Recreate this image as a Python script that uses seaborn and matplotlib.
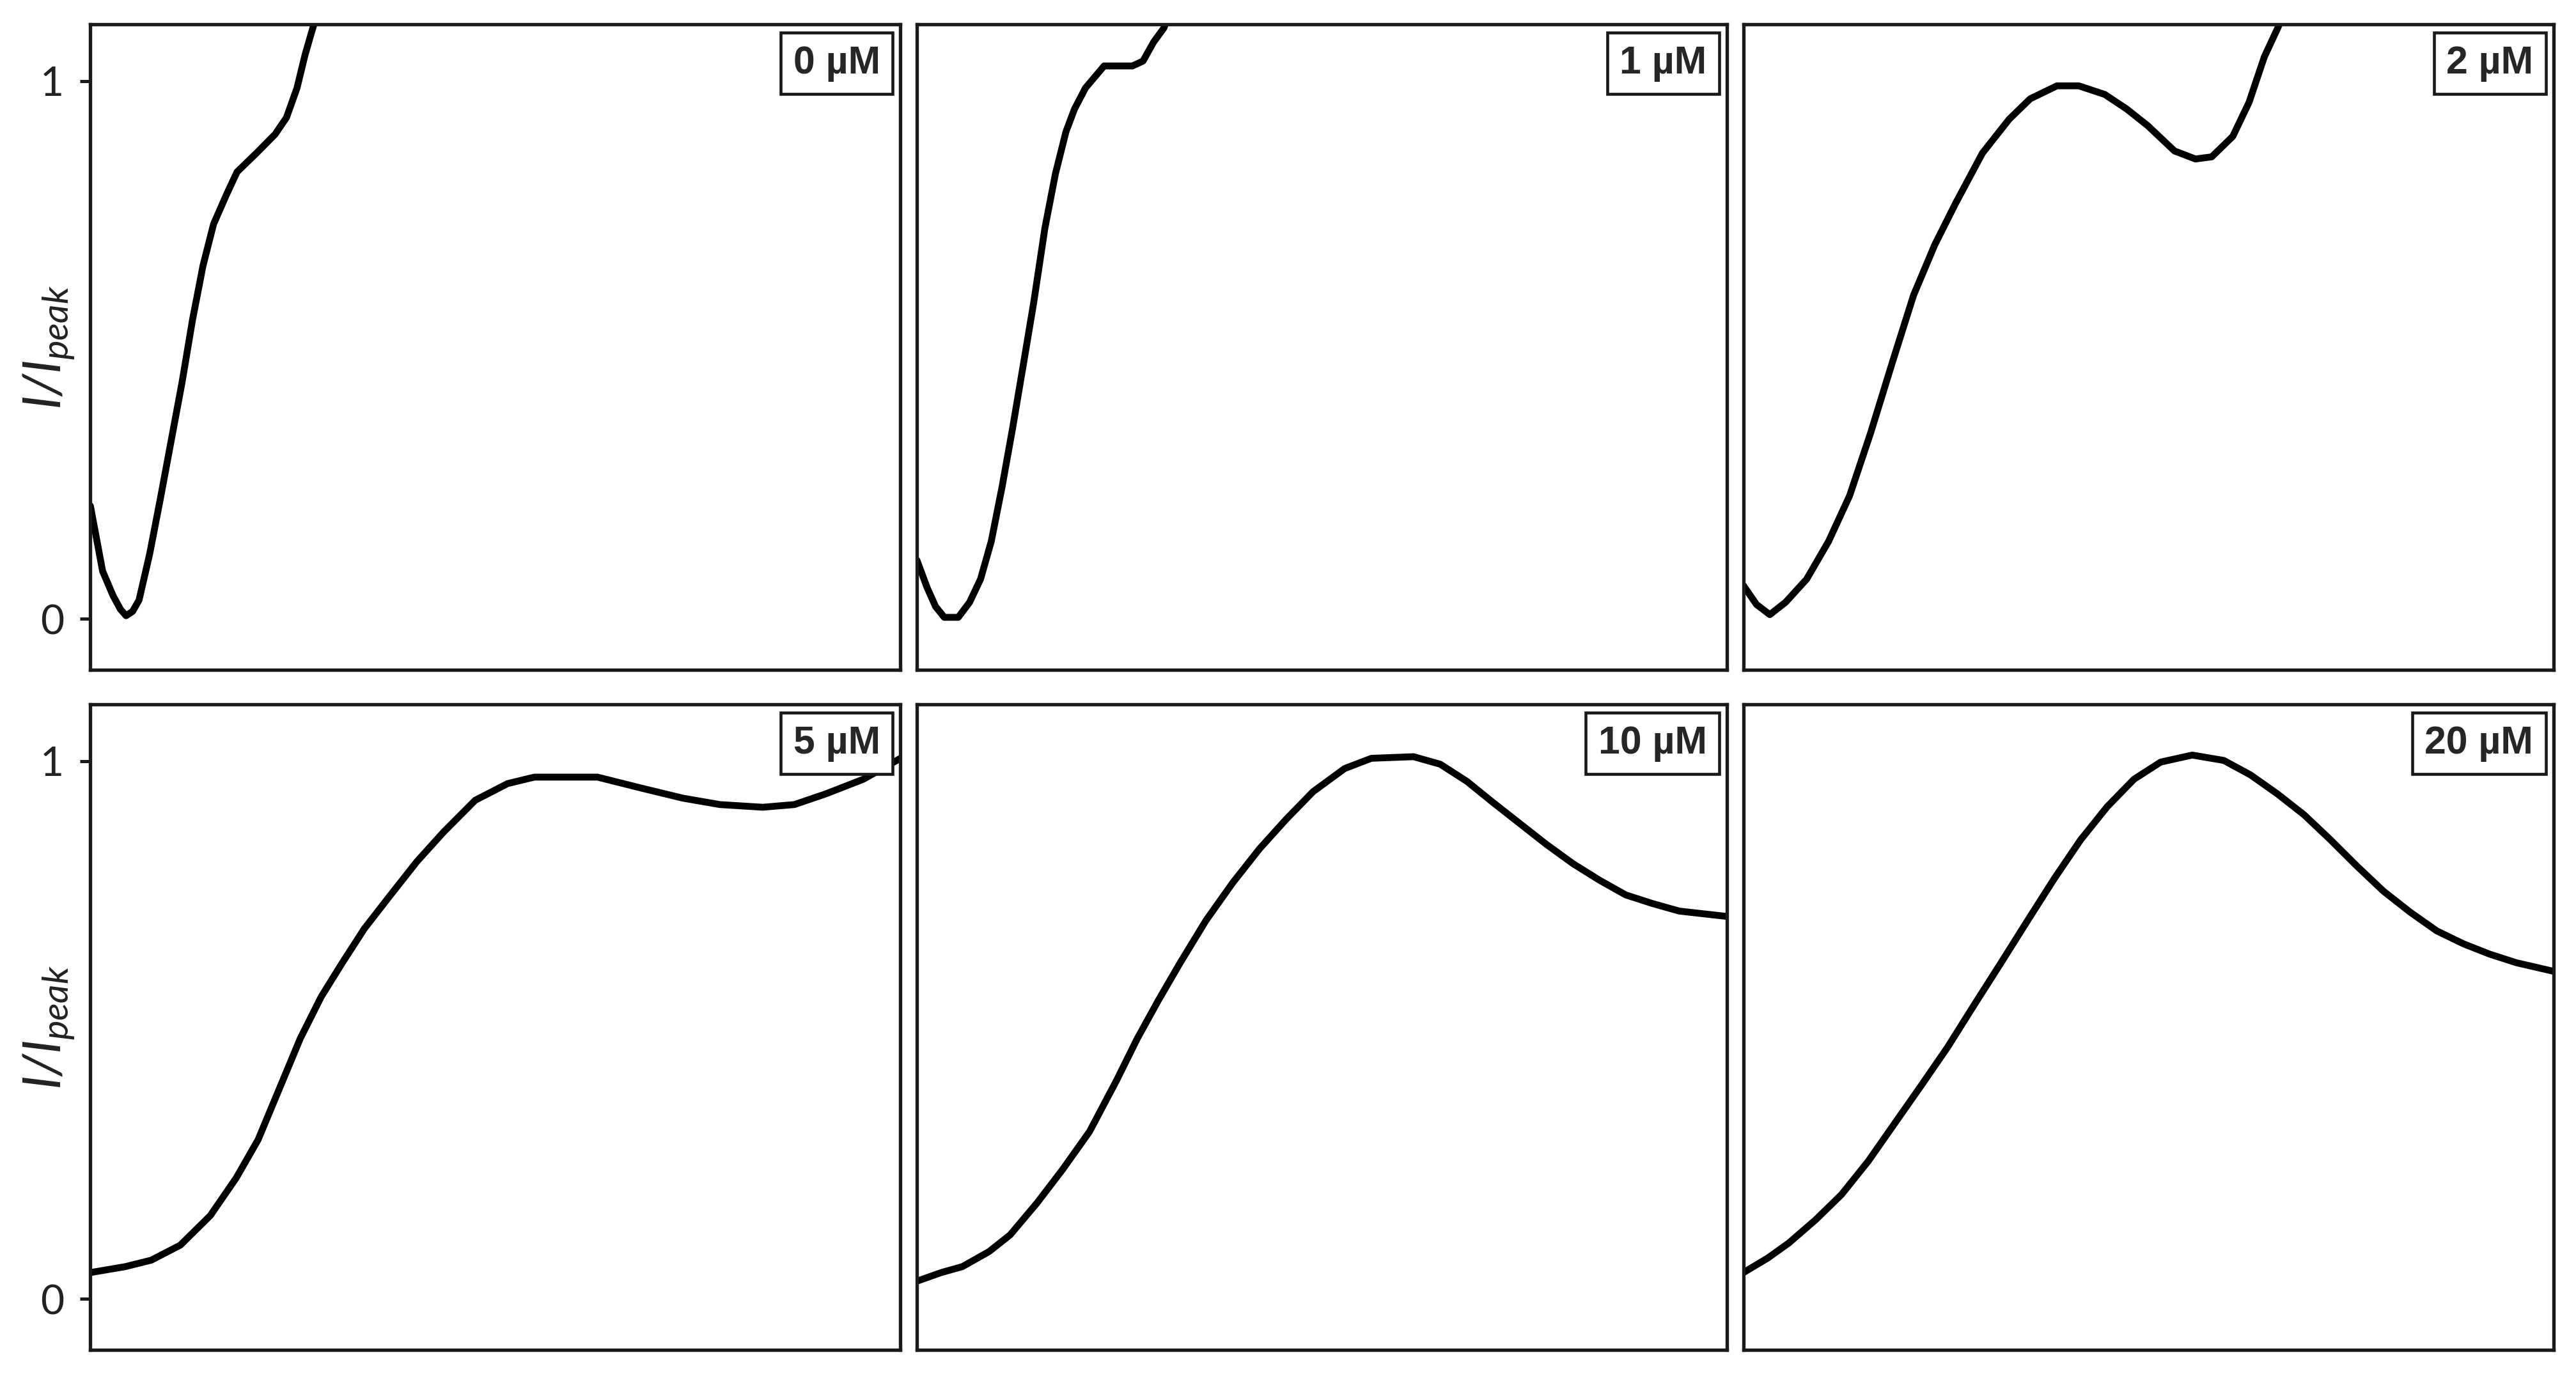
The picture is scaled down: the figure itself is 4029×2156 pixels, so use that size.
import matplotlib
matplotlib.use("Agg")
import matplotlib.pyplot as plt
import seaborn as sns

# Normalised current traces (x = % of sweep, y = I/Ipeak)
x_0uM = [0, 1.5, 2.8, 3.7, 4.4, 5.2, 6.0, 7.3, 8.6, 9.95, 11.3, 12.6, 13.9, 15.2, 16.8, 18.1, 20.5, 22.8, 24.2, 25.5, 26.5, 27.4, 28.1]
y_0uM = [0.21, 0.089, 0.043, 0.018, 0.006, 0.014, 0.035, 0.12, 0.221, 0.33, 0.439, 0.556, 0.657, 0.734, 0.789, 0.831, 0.866, 0.901, 0.932, 0.987, 1.049, 1.096, 1.13]

x_1uM = [0, 1.26, 2.3, 3.37, 5.1, 6.5, 7.85, 9.17, 10.5, 11.8, 13.1, 14.4, 15.8, 17.1, 18.4, 19.45, 20.8, 23.1, 26.6, 27.9, 29.2, 30.5, 31.2]
y_1uM = [0.109, 0.058, 0.023, 0.003, 0.003, 0.031, 0.074, 0.144, 0.245, 0.354, 0.47, 0.587, 0.727, 0.828, 0.906, 0.948, 0.987, 1.028, 1.028, 1.037, 1.072, 1.099, 1.13]

x_2uM = [0, 1.6, 3.25, 5.2, 7.8, 10.5, 13.1, 15.7, 18.4, 21.0, 23.6, 26.2, 29.5, 32.8, 35.4, 38.7, 41.4, 44.6, 47.3, 49.9, 53.2, 55.8, 57.8, 60.4, 62.4, 64.3, 66.0, 67.0]
y_2uM = [0.062, 0.027, 0.008, 0.031, 0.074, 0.144, 0.229, 0.346, 0.478, 0.602, 0.695, 0.773, 0.866, 0.929, 0.967, 0.991, 0.991, 0.975, 0.948, 0.917, 0.87, 0.855, 0.859, 0.897, 0.96, 1.045, 1.10, 1.14]

x_5uM = [0, 4.3, 7.5, 11.1, 14.8, 18.0, 20.7, 23.3, 25.9, 28.5, 31.1, 33.8, 37.0, 40.3, 43.6, 47.5, 51.5, 54.8, 62.6, 67.9, 73.1, 77.7, 83.0, 86.9, 90.8, 95.4, 100]
y_5uM = [0.049, 0.06, 0.072, 0.1, 0.155, 0.225, 0.296, 0.39, 0.484, 0.562, 0.625, 0.688, 0.75, 0.813, 0.868, 0.927, 0.958, 0.97, 0.97, 0.95, 0.931, 0.919, 0.914, 0.919, 0.939, 0.966, 1.005]

x_10uM = [0, 3.0, 5.6, 8.9, 11.5, 14.8, 18.0, 21.3, 24.6, 27.2, 29.8, 32.5, 35.7, 39.0, 42.3, 45.6, 48.9, 52.8, 56.1, 61.3, 64.6, 67.9, 71.1, 74.4, 77.7, 81.0, 84.3, 87.5, 90.8, 94.1, 100]
y_10uM = [0.033, 0.049, 0.06, 0.088, 0.119, 0.178, 0.241, 0.311, 0.405, 0.484, 0.555, 0.625, 0.704, 0.774, 0.837, 0.892, 0.943, 0.986, 1.005, 1.008, 0.994, 0.962, 0.923, 0.884, 0.845, 0.809, 0.778, 0.751, 0.735, 0.721, 0.711]

x_20uM = [0, 3.0, 5.6, 8.9, 12.1, 15.4, 18.7, 22.0, 25.2, 28.5, 31.8, 35.1, 38.4, 41.6, 44.9, 48.2, 51.5, 55.4, 59.3, 62.6, 65.9, 69.2, 72.5, 75.7, 79.0, 82.3, 85.6, 88.9, 92.1, 95.4, 100]
y_20uM = [0.049, 0.076, 0.104, 0.147, 0.194, 0.256, 0.327, 0.398, 0.468, 0.547, 0.625, 0.704, 0.782, 0.853, 0.915, 0.966, 0.998, 1.011, 1.001, 0.974, 0.939, 0.9, 0.853, 0.805, 0.758, 0.719, 0.684, 0.66, 0.641, 0.625, 0.609]

labels = ["0 \u00b5M", "1 \u00b5M", "2 \u00b5M", "5 \u00b5M", "10 \u00b5M", "20 \u00b5M"]
traces = [(x_0uM, y_0uM), (x_1uM, y_1uM), (x_2uM, y_2uM),
          (x_5uM, y_5uM), (x_10uM, y_10uM), (x_20uM, y_20uM)]

sns.set_theme(style="white")
plt.rcParams["font.family"] = ["Lato", "DejaVu Sans"]
plt.rcParams["mathtext.fontset"] = "custom"
plt.rcParams["mathtext.it"] = "Lato:italic"
plt.rcParams["mathtext.rm"] = "Lato:italic"

fig, axes = plt.subplots(2, 3, figsize=(15.68, 8.39), dpi=257)
fig.subplots_adjust(left=0.0351, right=0.9911, top=0.9821, bottom=0.0203,
                    wspace=0.0203, hspace=0.0534)

for i, ax in enumerate(axes.flat):
    x, y = traces[i]
    sns.lineplot(x=x, y=y, ax=ax, color="black", linewidth=3.0)
    ax.set_xlim(0, 100)
    ax.set_ylim(-0.095, 1.105)
    ax.set_xticks([])
    for s in ax.spines.values():
        s.set_color("#1a1a1a")
        s.set_linewidth(1.5)
    ax.text(0.975, 0.968, labels[i], transform=ax.transAxes, ha="right", va="top",
            fontsize=17, fontweight="bold", family="Liberation Sans",
            bbox=dict(boxstyle="square,pad=0.32", fc="white", ec="#1a1a1a", lw=1.3))
    if i % 3 == 0:
        ax.set_yticks([0, 1])
        ax.set_yticklabels(["0", "1"], fontsize=18, color="#222222")
        ax.tick_params(axis="y", length=4.6, width=1.4, pad=7, color="#1a1a1a", left=True)
        # y label sits in the margin, level with the panel centre
        pos = ax.get_position()
        fig.text(0.019, (pos.y0 + pos.y1) / 2, r"$I/I_{peak}$", rotation=90,
                 ha="center", va="center", fontsize=23, color="#222222")
    else:
        ax.set_yticks([])

fig.savefig("out.png", dpi=257, facecolor="white")
